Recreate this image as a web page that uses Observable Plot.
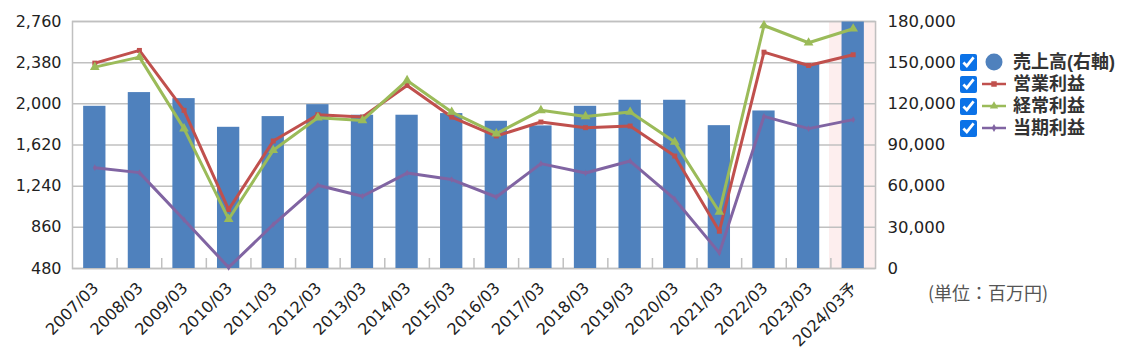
<!DOCTYPE html>
<html>
<head>
<meta charset="utf-8">
<script src="https://cdn.jsdelivr.net/npm/d3@7"></script>
<script src="https://cdn.jsdelivr.net/npm/@observablehq/plot@0.6"></script>
<style>
  html, body { margin: 0; padding: 0; background: #fff; }
  #wrap { position: relative; width: 1134px; height: 361px; font-family: Meiryo, "DejaVu Sans", "Noto Sans CJK JP", sans-serif; }
  #legend { position: absolute; left: 960px; top: 51px; }
  .row { display: flex; align-items: center; height: 22px; }
  .row input { width: 17px; height: 17px; margin: 0 4px 0 0; accent-color: #0b72e7; }
  .row span { font-weight: bold; font-size: 18px; line-height: 20px; color: #333; font-family: "Liberation Sans", "Noto Sans CJK JP", sans-serif; margin-left: 6px; }
  #unit { position: absolute; left: 928px; top: 281px; font-size: 18px; line-height: 22px; color: #555; font-family: "Noto Sans CJK JP", sans-serif; }
</style>
</head>
<body>
<div id="wrap">
  <div id="chart"></div>
  <div id="legend"></div>
  <div id="unit">(単位：百万円)</div>
</div>
<script>
const categories = ["2007/03","2008/03","2009/03","2010/03","2011/03","2012/03","2013/03","2014/03","2015/03","2016/03","2017/03","2018/03","2019/03","2020/03","2021/03","2022/03","2023/03","2024/03予"];
const sales     = [118200,128200,123800,102900,110700,119400,111700,111700,112900,107300,103900,118200,122600,122600,104100,114800,148800,179600];
const operating = [2376,2493,1940,1024,1657,1900,1878,2170,1878,1703,1832,1780,1795,1518,824,2477,2354,2453];
const ordinary  = [2339,2431,1771,935,1571,1872,1847,2216,1924,1725,1940,1884,1924,1647,1002,2723,2564,2693];
const net       = [1411,1365,930,490,886,1248,1147,1361,1301,1140,1448,1361,1472,1120,624,1884,1771,1854];
const leftTicks  = [480,860,1240,1620,2000,2380,2760];
const rightTicks = [0,30000,60000,90000,120000,150000,180000];
const seriesNames = ["売上高(右軸)","営業利益","経常利益","当期利益"];

const colors = {sales: "#4F81BD", op: "#C0504D", ord: "#9BBB59", net: "#8064A2"};
const yMin = leftTicks[0], yMax = leftTicks[leftTicks.length - 1];
const rMax = rightTicks[rightTicks.length - 1];
const toLeft = v => yMin + v / rMax * (yMax - yMin);
const toRight = v => Math.round((v - yMin) / (yMax - yMin) * rMax);

const rows = categories.map((c, i) => ({cat: c, sales: sales[i], op: operating[i], ord: ordinary[i], net: net[i]}));

const W = 1134, H = 361, mL = 72, mR = 259, mT = 21, mB = 93;
const step = (W - mL - mR) / categories.length;
const unitsPerPx = (yMax - yMin) / (H - mT - mB);
const fmt = d3.format(",");

const chart = Plot.plot({
  width: W, height: H,
  marginLeft: mL, marginRight: mR, marginTop: mT, marginBottom: mB,
  style: {fontFamily: 'Meiryo, "DejaVu Sans", "Noto Sans CJK JP", sans-serif', color: "#222", background: "#fff"},
  x: {type: "band", domain: categories, paddingInner: 0.5, paddingOuter: 0.25, round: false, axis: null},
  y: {domain: [yMin, yMax], axis: null},
  marks: [
    Plot.barY([categories[categories.length - 1]], {x: d => d, y1: yMin, y2: yMax, fill: "#fdeeee", insetLeft: -12.5, insetRight: -12.5}),
    Plot.gridY(leftTicks, {stroke: "#c0c0c0", strokeOpacity: 1, strokeWidth: 1.5}),
    Plot.frame({stroke: "#c0c0c0", strokeWidth: 1.5}),
    Plot.barY(rows, {x: "cat", y1: yMin, y2: d => toLeft(d.sales), fill: colors.sales}),
    Plot.ruleX(categories.slice(0, -1), {x: d => d, dx: step / 2, y1: yMin, y2: yMin + 10 * unitsPerPx, stroke: "#c0c0c0", strokeWidth: 1.5}),
    Plot.line(rows, {x: "cat", y: "op", stroke: colors.op, strokeWidth: 3}),
    Plot.dot(rows, {x: "cat", y: "op", symbol: "square", r: 2.8, fill: colors.op}),
    Plot.line(rows, {x: "cat", y: "ord", stroke: colors.ord, strokeWidth: 3}),
    Plot.dot(rows, {x: "cat", y: "ord", symbol: "triangle", r: 3.6, fill: colors.ord}),
    Plot.line(rows, {x: "cat", y: "net", stroke: colors.net, strokeWidth: 3}),
    Plot.dot(rows, {x: "cat", y: "net", symbol: "diamond", r: 2, fill: colors.net}),
    Plot.axisY(leftTicks, {anchor: "left", tickSize: 0, tickPadding: 11, fontSize: 16, tickFormat: fmt, label: null}),
    Plot.axisY(leftTicks, {anchor: "right", tickSize: 0, tickPadding: 12, fontSize: 16.5, tickFormat: d => fmt(toRight(d)), label: null}),
    Plot.axisX({tickSize: 0, tickPadding: 17, tickRotate: -45, fontSize: 16, dx: 1, label: null})
  ]
});
document.getElementById("chart").appendChild(chart);

// legend
const legend = document.getElementById("legend");
const keys = ["sales", "op", "ord", "net"];
const syms = {op: "square", ord: "triangle", net: "diamond"};
keys.forEach((k, i) => {
  const row = document.createElement("div");
  row.className = "row";
  const cb = document.createElement("input");
  cb.type = "checkbox"; cb.checked = true;
  row.appendChild(cb);
  const svg = d3.create("svg").attr("width", 26).attr("height", 20);
  if (k === "sales") {
    svg.append("circle").attr("cx", 13).attr("cy", 10).attr("r", 8.5).attr("fill", colors.sales);
  } else {
    svg.append("line").attr("x1", 1).attr("x2", 25).attr("y1", 10).attr("y2", 10).attr("stroke", colors[k]).attr("stroke-width", 2.5);
    const sym = {square: d3.symbolSquare, triangle: d3.symbolTriangle, diamond: d3.symbolDiamond}[syms[k]];
    svg.append("path").attr("d", d3.symbol(sym, k === "net" ? 18 : 30)()).attr("transform", "translate(13,10)").attr("fill", colors[k]);
  }
  row.appendChild(svg.node());
  const sp = document.createElement("span");
  sp.textContent = seriesNames[i];
  row.appendChild(sp);
  legend.appendChild(row);
});
</script>
</body>
</html>
